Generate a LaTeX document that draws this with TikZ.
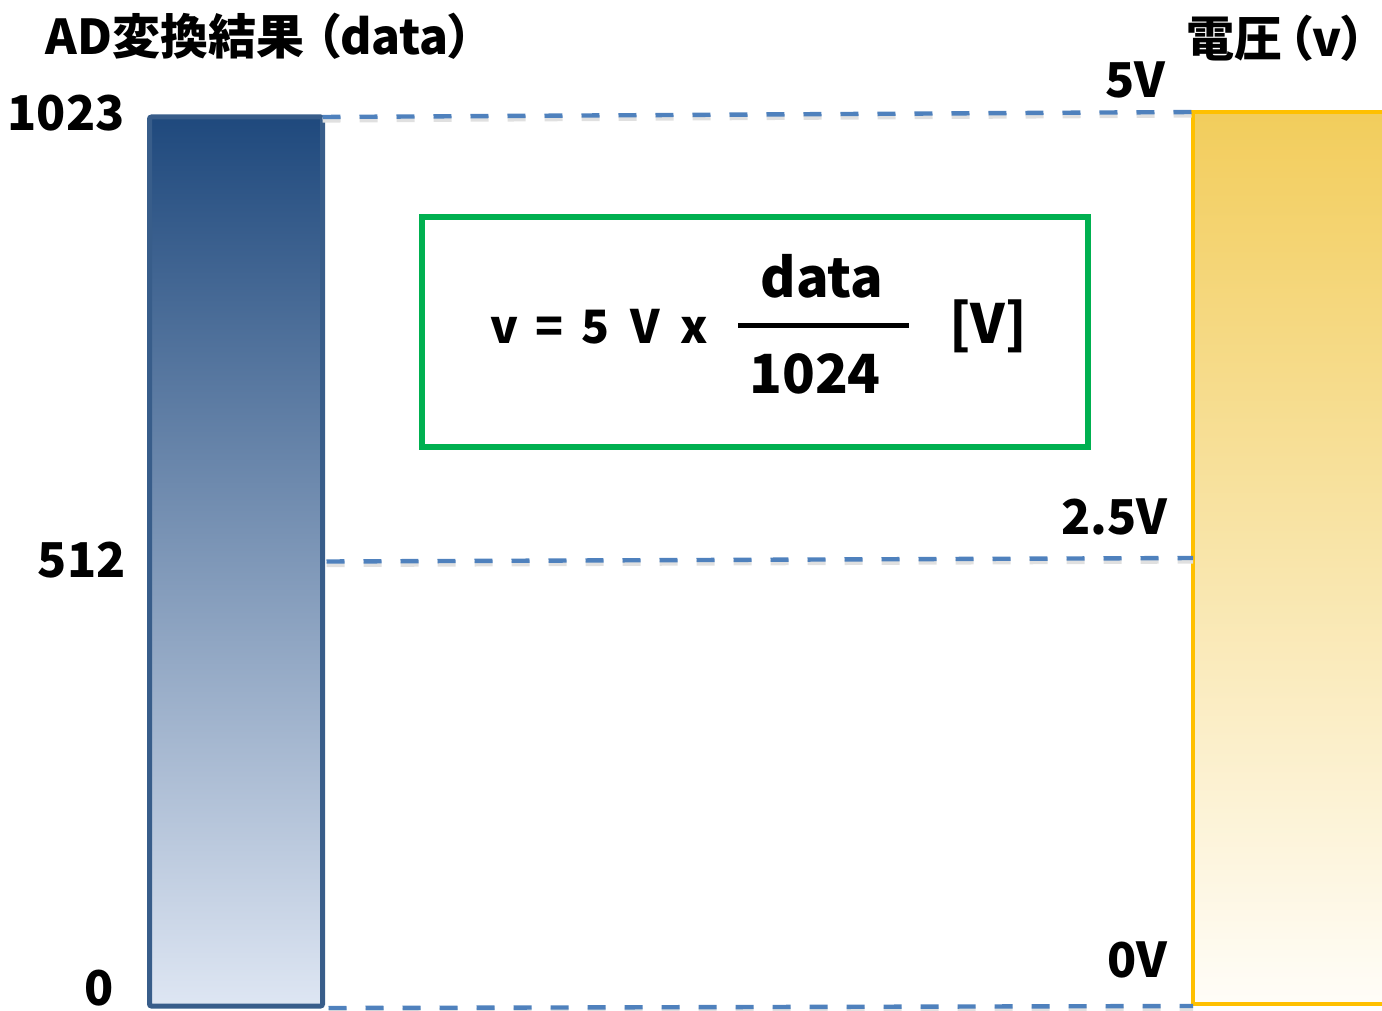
\documentclass[tikz,border=0pt]{standalone}
\usepackage{fontspec}
\setmainfont{Noto Sans CJK JP}
\newfontfamily\paltfont{Noto Sans CJK JP}[RawFeature=+palt]
\usetikzlibrary{calc}
\definecolor{barblue}{HTML}{1F497D}
\definecolor{barbluelight}{HTML}{DEE6F3}
\definecolor{barborder}{HTML}{385D8A}
\definecolor{dashblue}{HTML}{4F81BD}
\definecolor{volttop}{HTML}{F2CD5C}
\definecolor{voltbot}{HTML}{FFFDF8}
\definecolor{voltborder}{HTML}{FFC000}
\definecolor{boxgreen}{HTML}{00B050}
\tikzset{
  lbl/.style={inner sep=0pt, font=\fontsize{24}{30}\selectfont\bfseries},
  ttl/.style={inner sep=0pt, font=\paltfont\fontsize{24}{28}\selectfont\bfseries},
  frm/.style={inner sep=0pt, font=\fontsize{23}{28}\selectfont\bfseries},
  frmbig/.style={inner sep=0pt, font=\fontsize{27}{32}\selectfont\bfseries},
  dashline/.style={dashblue, line width=2.2pt, dash pattern=on 9pt off 9.5pt},
  dashshadow/.style={black!12, line width=2.6pt, dash pattern=on 9pt off 9.5pt, transform canvas={yshift=-1.5pt}},
}
\begin{document}
\begin{tikzpicture}[x=0.5pt,y=-0.5pt]
\useasboundingbox (0,0) rectangle (1382,1011);
\clip (0,0) rectangle (1382,1011);
% bars
\node[draw=barborder, line width=2.5pt, rounded corners=1pt, top color=barblue, bottom color=barbluelight,
      minimum width=86.5pt, minimum height=444.5pt, inner sep=0pt, outer sep=0pt] (adbar) at (236,561.5) {};
\node[draw=voltborder, line width=2.25pt, top color=volttop, bottom color=voltbot,
      minimum width=103.5pt, minimum height=446pt, inner sep=0pt, outer sep=0pt] (vbar) at (1296.5,558) {};
% dashed connectors
\coordinate (admid) at ($(adbar.north east)!0.5!(adbar.south east)+(4,0)$);
\coordinate (vmid) at ($(vbar.north west)!0.5!(vbar.south west)$);
\coordinate (adbot) at ($(adbar.south east)+(6,2)$);
\coordinate (vbot) at ($(vbar.south west)+(0,2)$);
\draw[dashshadow] (adbar.north east) -- (vbar.north west);
\draw[dashshadow] (admid) -- (vmid);
\draw[dashshadow] (adbot) -- (vbot);
\draw[dashline] (adbar.north east) -- (vbar.north west);
\draw[dashline] (admid) -- (vmid);
\draw[dashline] (adbot) -- (vbot);
% formula box
\node[draw=boxgreen, line width=3pt, minimum width=333pt, minimum height=115pt, inner sep=0pt] (box) at (755,332) {};
\node[frm, anchor=base west] (lhs) at (490,343) {v\hspace{0.38em}=\hspace{0.38em}5\hspace{0.45em}V\hspace{0.45em}x};
\coordinate (fracl) at (738,325);
\coordinate (fracr) at (909,325);
\draw[line width=2.5pt] (fracl) -- (fracr);
\node[frmbig, anchor=base] (num) at (822,297) {data};
\node[frmbig, anchor=base] (den) at (815,393) {1024};
\node[frmbig, anchor=base] (unit) at (988,343) {[V]};
% titles and labels
\node[ttl, anchor=west] (ttlad) at (45,36) {AD変換結果\hspace{0.25em}（data）};
\node[ttl, anchor=east] (ttlv) at (1366,38) {電圧\hspace{0.12em}（v）};
\node[lbl, anchor=east] (l1023) at (125,113) {1023};
\node[lbl, anchor=east] (l512) at (126,560) {512};
\node[lbl, anchor=east] (l0) at (114,988) {0};
\node[lbl, anchor=east] (l5v) at (1166,80) {5V};
\node[lbl, anchor=east] (l25v) at (1168,517) {2.5V};
\node[lbl, anchor=east] (l0v) at (1168,960) {0V};
\end{tikzpicture}
\end{document}
